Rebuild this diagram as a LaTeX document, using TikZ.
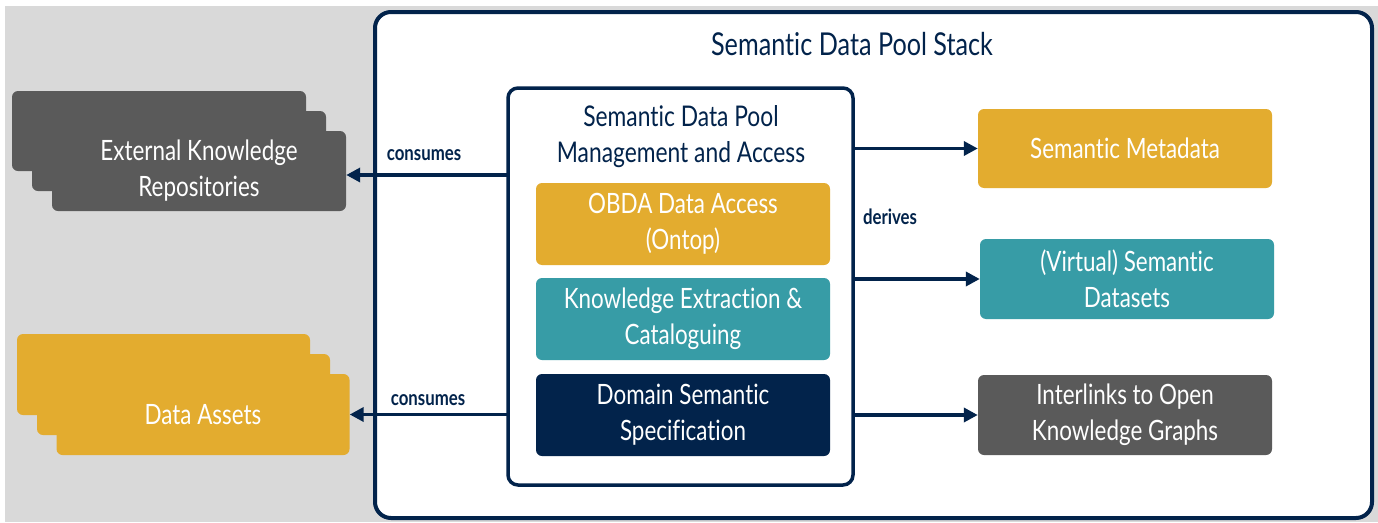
\documentclass[tikz,border=0pt]{standalone}
\usepackage{fontspec}
\setmainfont{Lato}[FakeStretch=0.8, Ligatures=NoCommon]
\usetikzlibrary{arrows.meta}

\definecolor{navy}{RGB}{2,35,75}
\definecolor{gold}{RGB}{227,172,47}
\definecolor{teal}{RGB}{55,156,166}
\definecolor{slate}{RGB}{90,90,90}
\definecolor{backgray}{RGB}{217,217,217}

\tikzset{
  card/.style={rounded corners=6pt, minimum width=294pt, minimum height=80pt,
    inner sep=0pt, text=white, align=center,
    font=\fontsize{28}{36}\selectfont},
  flow/.style={navy, line width=3.8pt, -{Triangle[length=14pt,width=14pt]}},
  lbl/.style={navy, font=\fontsize{21}{24}\selectfont\bfseries},
}

\begin{document}
\begin{tikzpicture}[x=1pt, y=-1pt]
  \useasboundingbox (0,0) rectangle (1378,522);
  \fill[backgray] (5,6) rectangle (1378,522);

  % stack frame
  \draw[navy, line width=4pt, fill=white, rounded corners=16pt]
    (375,12) rectangle (1372,518);
  \node[navy, font=\fontsize{31.5}{36}\selectfont] (stack) at (852,44)
    {Semantic Data Pool Stack};

  % management and access frame
  \draw[navy, line width=3.5pt, rounded corners=10pt]
    (508,88) rectangle (853,485);
  \node (inner) at (680.5,286.5) [minimum width=345pt, minimum height=397pt] {};
  \node[navy, align=center, font=\fontsize{28.5}{36}\selectfont] (innertitle)
    at (681,137) {Semantic Data Pool\\Management and Access};

  \node[card, fill=gold, minimum height=82pt] (obda) at (683,224)
    {OBDA Data Access\\(Ontop)};
  \node[card, fill=teal, minimum height=82pt] (kec) at (683,319)
    {Knowledge Extraction \&\\Cataloguing};
  \node[card, fill=navy, minimum height=82pt] (dss) at (683,415)
    {Domain Semantic\\Specification};

  % external knowledge repositories (stacked)
  \node[card, fill=slate] (ekrA) at (159,131) {};
  \node[card, fill=slate] (ekrB) at (179,151) {};
  \node[card, fill=slate] (ekr) at (199,171)
    {External Knowledge\\Repositories};

  % data assets (stacked)
  \node[card, fill=gold, minimum width=293pt, minimum height=81pt] (daA) at (163.5,374.5) {};
  \node[card, fill=gold, minimum width=293pt, minimum height=81pt] (daB) at (183.5,394.5) {};
  \node[card, fill=gold, minimum width=293pt, minimum height=81pt] (da) at (203,414.5)
    {Data Assets};

  % derived outputs
  \node[card, fill=gold, minimum height=79pt] (meta) at (1125,148.5)
    {Semantic Metadata};
  \node[card, fill=teal] (vsd) at (1127,279)
    {(Virtual) Semantic\\Datasets};
  \node[card, fill=slate] (okg) at (1125,415)
    {Interlinks to Open\\Knowledge Graphs};

  % connectors
  \draw[flow] ([yshift=-4pt]inner.west |- ekr.east) -- ([yshift=-4pt]ekr.east);
  \draw[flow] (inner.west |- da.east) -- (da.east);
  \draw[flow] (inner.east |- meta.west) -- (meta.west);
  \draw[flow] (inner.east |- vsd.west) -- (vsd.west);
  \draw[flow] (inner.east |- okg.west) -- (okg.west);

  \node[lbl] (c1) at (424,155) {consumes};
  \node[lbl] (c2) at (428,400) {consumes};
  \node[lbl] (d1) at (890,217) {derives};
\end{tikzpicture}
\end{document}
